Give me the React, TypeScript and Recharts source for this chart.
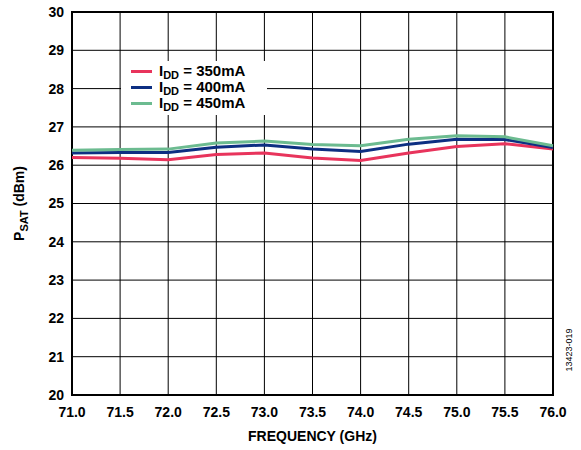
import React from "react";
import {
  LineChart, Line, XAxis, YAxis, CartesianGrid, ReferenceArea,
} from "recharts";

const freqs = [71.0, 71.5, 72.0, 72.5, 73.0, 73.5, 74.0, 74.5, 75.0, 75.5, 76.0];
const idd350 = [26.2, 26.18, 26.14, 26.28, 26.32, 26.19, 26.12, 26.32, 26.49, 26.56, 26.42];
const idd400 = [26.32, 26.33, 26.33, 26.47, 26.53, 26.42, 26.36, 26.55, 26.68, 26.67, 26.46];
const idd450 = [26.39, 26.41, 26.42, 26.58, 26.63, 26.54, 26.51, 26.68, 26.77, 26.74, 26.51];
const yTicks = [20, 21, 22, 23, 24, 25, 26, 27, 28, 29, 30];

const seriesInfo = [
  { key: "i350", label: "350mA", color: "#e8345c" },
  { key: "i400", label: "400mA", color: "#0d2f82" },
  { key: "i450", label: "450mA", color: "#6cbb90" },
];

const data = freqs.map((f, i) => ({
  f,
  i350: idd350[i],
  i400: idd400[i],
  i450: idd450[i],
}));

const FONT = "'Liberation Sans', Arial, sans-serif";

function LegendBox() {
  return (
    <div
      style={{
        position: "absolute",
        left: 121,
        top: 61,
        width: 146,
        background: "#fff",
        padding: "2px 0 4px 10px",
        boxSizing: "border-box",
        fontFamily: FONT,
        fontWeight: "bold",
        fontSize: 15,
        lineHeight: "16px",
      }}
    >
      {seriesInfo.map((s) => (
        <div key={s.key} style={{ display: "flex", alignItems: "center", height: 16 }}>
          <span style={{ display: "inline-block", width: 21, height: 3, background: s.color, marginRight: 7 }} />
          <span style={{ whiteSpace: "nowrap" }}>
            I<span style={{ fontSize: 11, position: "relative", top: 3 }}>DD</span> = {s.label}
          </span>
        </div>
      ))}
    </div>
  );
}

function YLabel(props: any) {
  const vb = props.viewBox || {};
  const cx = 24;
  const cy = vb.y + vb.height / 2;
  return (
    <text
      x={cx}
      y={cy}
      transform={`rotate(-90 ${cx} ${cy})`}
      textAnchor="middle"
      fontFamily={FONT}
      fontWeight="bold"
      fontSize={14}
      fill="#000"
    >
      P<tspan fontSize={11} dy={4}>SAT</tspan>
      <tspan dy={-4}> (dBm)</tspan>
    </text>
  );
}

export default function App() {
  return (
    <div style={{ position: "absolute", left: 0, top: 0, width: 581, height: 450, background: "#fff" }}>
      <LineChart
        width={581}
        height={450}
        data={data}
        margin={{ top: 12, right: 28, left: 32, bottom: 25 }}
      >
        <CartesianGrid stroke="#000" strokeWidth={1} vertical horizontal />
        <XAxis
          dataKey="f"
          type="number"
          domain={[71, 76]}
          ticks={freqs}
          tickFormatter={(v) => Number(v).toFixed(1)}
          axisLine={false}
          tickLine={false}
          height={30}
          tick={{ fontFamily: FONT, fontWeight: "bold", fontSize: 14, fill: "#000", dy: 4 }}
          label={{
            value: "FREQUENCY (GHz)",
            position: "insideBottom",
            offset: -16,
            style: { fontFamily: FONT, fontWeight: "bold", fontSize: 14, fill: "#000" },
          }}
        />
        <YAxis
          type="number"
          domain={[20, 30]}
          ticks={yTicks}
          axisLine={false}
          tickLine={false}
          width={40}
          tick={{ fontFamily: FONT, fontWeight: "bold", fontSize: 14, fill: "#000" }}
          label={<YLabel />}
        />
        <ReferenceArea x1={71} x2={76} y1={20} y2={30} fill="none" stroke="#000" strokeWidth={2} ifOverflow="visible" />
        {seriesInfo.map((s) => (
          <Line
            key={s.key}
            type="linear"
            dataKey={s.key}
            stroke={s.color}
            strokeWidth={3}
            dot={false}
            isAnimationActive={false}
          />
        ))}
        <text
          x={572}
          y={350}
          transform="rotate(-90 572 350)"
          textAnchor="middle"
          fontFamily={FONT}
          fontSize={9}
          fill="#000"
        >
          13423-019
        </text>
      </LineChart>
      <LegendBox />
    </div>
  );
}
